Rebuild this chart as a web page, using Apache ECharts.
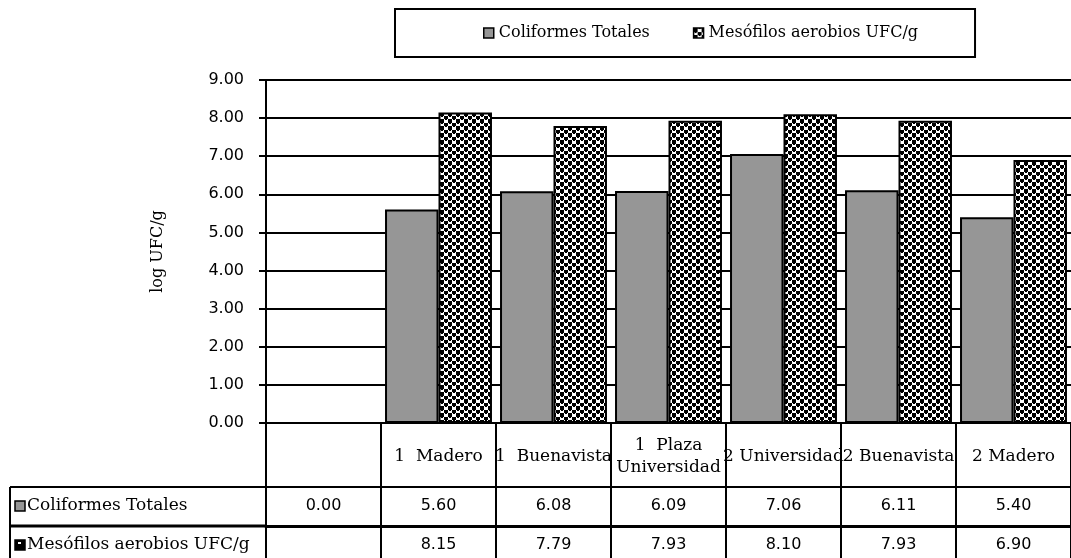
<!DOCTYPE html>
<html>
<head>
<meta charset="utf-8">
<script src="https://cdn.jsdelivr.net/npm/echarts@6/dist/echarts.min.js"></script>
<style>
  html, body { margin: 0; padding: 0; background: #fff; }
  #chart { width: 1071px; height: 558px; }
</style>
</head>
<body>
<div id="chart"></div>
<script>
// Sampling points (first column is an empty reference point)
const categories = ['', '1  Madero', '1  Buenavista', '1  Plaza\nUniversidad', '2 Universidad', '2 Buenavista', '2 Madero'];
const coliformes = [0.00, 5.60, 6.08, 6.09, 7.06, 6.11, 5.40];
const mesofilos = [null, 8.15, 7.79, 7.93, 8.10, 7.93, 6.90];
const seriesNames = ['Coliformes Totales', 'Mesófilos aerobios UFC/g'];
const yTicks = [0, 1, 2, 3, 4, 5, 6, 7, 8, 9];

const SERIF = '"DejaVu Serif", serif';
const SANS = '"DejaVu Sans", sans-serif';

// Black-and-white checker fill for the second series
function checkerPattern() {
  const c = document.createElement('canvas');
  c.width = 8; c.height = 7;
  const g = c.getContext('2d');
  g.fillStyle = '#fff';
  g.fillRect(0, 0, 8, 7);
  g.fillStyle = '#000';
  g.fillRect(0, 0, 4, 4);
  g.fillRect(4, 4, 4, 3);
  g.fillRect(1, 4, 2, 1);
  g.fillRect(5, 0, 2, 1);
  return c;
}
const pattern = { image: checkerPattern(), repeat: 'repeat' };

const fmt = v => (v === null || v === undefined) ? '' : v.toFixed(2);

const chart = echarts.init(document.getElementById('chart'), null, { renderer: 'canvas' });

const tableAxis = (offset, values, tickLen, lineW) => ({
  type: 'category',
  data: categories,
  position: 'bottom',
  offset: offset,
  gridIndex: 0,
  axisLine: { show: true, lineStyle: { color: '#000', width: lineW } },
  axisTick: { show: true, interval: 0, alignWithLabel: false, length: tickLen, lineStyle: { color: '#000', width: 2 } },
  axisLabel: {
    interval: 0, margin: 19, verticalAlign: 'middle',
    fontFamily: SANS, fontSize: 16, color: '#000',
    formatter: (v, i) => fmt(values[i])
  },
  splitLine: { show: false }
});

const option = {
  animation: false,
  backgroundColor: '#fff',
  grid: { left: 266, top: 80, width: 815, height: 343, containLabel: false },
  legend: {
    left: 395, top: 9,
    data: seriesNames,
    icon: 'rect', itemWidth: 10, itemHeight: 10, itemGap: 43,
    padding: [16, 57, 16, 88],
    borderColor: '#000', borderWidth: 2,
    textStyle: { fontFamily: SERIF, fontSize: 16, color: '#000', lineHeight: 16 },
    itemStyle: { borderColor: '#000', borderWidth: 1.5 }
  },
  yAxis: {
    type: 'value', min: 0, max: 9, interval: 1,
    name: 'log UFC/g', nameLocation: 'middle', nameRotate: 90, nameGap: 100,
    nameTextStyle: { fontFamily: SERIF, fontSize: 16, color: '#000' },
    axisLine: { show: true, lineStyle: { color: '#000', width: 2 } },
    axisTick: { show: true, length: 7, lineStyle: { color: '#000', width: 2 } },
    axisLabel: { margin: 22, fontFamily: SANS, fontSize: 16, color: '#000',
      formatter: v => yTicks.includes(v) ? v.toFixed(2) : '' },
    splitLine: { show: true, lineStyle: { color: '#000', width: 2 } }
  },
  xAxis: [
    {
      type: 'category', data: categories, position: 'bottom',
      axisLine: { show: true, lineStyle: { color: '#000', width: 2 } },
      axisTick: { show: true, interval: 0, length: 64, lineStyle: { color: '#000', width: 2 } },
      axisLabel: { interval: 0, margin: 34, verticalAlign: 'middle', lineHeight: 22,
        fontFamily: SERIF, fontSize: 17, color: '#000' },
      splitLine: { show: false }
    },
    tableAxis(64, coliformes, 39, 2),
    tableAxis(103, mesofilos, 40, 3)
  ],
  series: [
    {
      name: seriesNames[0], type: 'bar', xAxisIndex: 0, data: coliformes,
      barGap: '0%', barCategoryGap: '7%',
      itemStyle: { color: '#969696', borderColor: '#000', borderWidth: 2 }
    },
    {
      name: seriesNames[1], type: 'bar', xAxisIndex: 0, data: mesofilos,
      barGap: '0%', barCategoryGap: '7%',
      itemStyle: { color: pattern, borderColor: '#000', borderWidth: 2 }
    }
  ]
};
chart.setOption(option);

// Row header cells of the value table, placed left of the table axes
function drawRowHeaders() {
  const xLeft = 10;
  const x0 = chart.getModel().getComponent('grid', 0).coordinateSystem.getRect().x;
  const y0 = chart.convertToPixel({ yAxisIndex: 0 }, 0);
  const rowTops = [y0 + 64, y0 + 103];
  const rowBottom = y0 + 145;
  const els = [];
  els.push({ type: 'line', shape: { x1: xLeft, y1: rowTops[0], x2: x0, y2: rowTops[0] }, style: { stroke: '#000', lineWidth: 2 } });
  els.push({ type: 'line', shape: { x1: xLeft, y1: rowTops[1], x2: x0, y2: rowTops[1] }, style: { stroke: '#000', lineWidth: 3 } });
  els.push({ type: 'line', shape: { x1: xLeft, y1: rowTops[0], x2: xLeft, y2: rowBottom }, style: { stroke: '#000', lineWidth: 2 } });
  seriesNames.forEach((n, i) => {
    const cy = rowTops[i] + 19;
    els.push({ type: 'rect', shape: { x: 15, y: cy - 5, width: 10, height: 10 },
      style: { fill: i === 0 ? '#969696' : '#000', stroke: '#000', lineWidth: 1.5 } });
    if (i === 1) {
      els.push({ type: 'rect', shape: { x: 18, y: cy - 3, width: 3, height: 2 }, style: { fill: '#fff' } });
    }
    els.push({ type: 'text', x: 27, y: cy,
      style: { text: n, fontFamily: SERIF, fontSize: 17, fill: '#000', verticalAlign: 'middle', align: 'left' } });
  });
  chart.setOption({ graphic: { elements: els } });
}
drawRowHeaders();
</script>
</body>
</html>
